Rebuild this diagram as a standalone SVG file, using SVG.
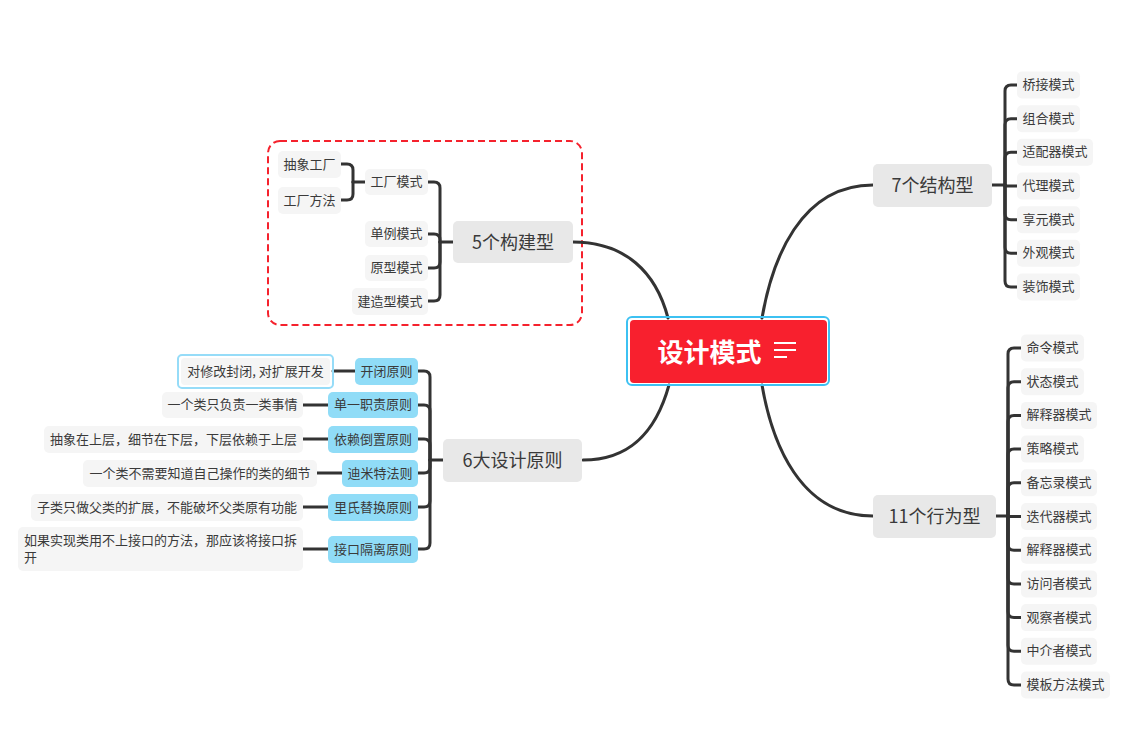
<svg xmlns="http://www.w3.org/2000/svg" width="1139" height="730" viewBox="0 0 1139 730">
<style>
text{font-family:"Noto Sans CJK SC","Liberation Sans",sans-serif;fill:#3a3a3a;dominant-baseline:central;text-anchor:middle;transform:translateY(-1.5px)}
.leaf rect{fill:#f5f5f5}
.leaf text{font-size:13px}
.topic rect{fill:#e8e8e8}
.topic text{font-size:18px}
.pr rect{fill:#90dcf7}
.pr text{font-size:13px}
.conn path{fill:none;stroke:#333;stroke-width:3;stroke-linecap:round}
</style>
<rect width="1139" height="730" fill="#fff"/>
<rect id="boundary" x="268" y="141" width="314" height="184" rx="12" fill="none" stroke="#f5222d" stroke-width="2" stroke-dasharray="7 4"/>
<g class="conn" id="connectors">
<path d="M573 242 C625 242 656 272 668 318"/>
<path d="M583 460 C630 460 656 432 669 385"/>
<path d="M762 318 C772 260 800 185 873 185"/>
<path d="M762 385 C772 443 800 516 873 516"/>
<path d="M453 242 H440"/>
<path d="M440 242 V188 Q440 182 434 182 H428"/>
<path d="M440 242 V240 Q440 234 434 234 H428"/>
<path d="M440 242 V262 Q440 268 434 268 H428"/>
<path d="M440 242 V295 Q440 301 434 301 H428"/>
<path d="M365 182 H353"/>
<path d="M353 182 V170 Q353 164 347 164 H341"/>
<path d="M353 182 V194 Q353 200 347 200 H341"/>
<path d="M443 460 H430"/>
<path d="M430 460 V377 Q430 371 424 371 H418"/>
<path d="M430 460 V411 Q430 405 424 405 H418"/>
<path d="M430 460 V445 Q430 439 424 439 H418"/>
<path d="M430 460 V467 Q430 473 424 473 H418"/>
<path d="M430 460 V501 Q430 507 424 507 H418"/>
<path d="M430 460 V543 Q430 549 424 549 H418"/>
<path d="M333 371 H355"/>
<path d="M303 405 H328"/>
<path d="M303 439 H328"/>
<path d="M317 473 H342"/>
<path d="M303 507 H328"/>
<path d="M303 549 H328"/>
<path d="M992 185 H1005"/>
<path d="M1005 185 V91 Q1005 85 1011 85 H1017"/>
<path d="M1005 185 V124.7 Q1005 118.7 1011 118.7 H1017"/>
<path d="M1005 185 V158.3 Q1005 152.3 1011 152.3 H1017"/>
<path d="M1005 185 V186 H1017"/>
<path d="M1005 185 V213.7 Q1005 219.7 1011 219.7 H1017"/>
<path d="M1005 185 V247.3 Q1005 253.3 1011 253.3 H1017"/>
<path d="M1005 185 V281 Q1005 287 1011 287 H1017"/>
<path d="M996 516 H1008"/>
<path d="M1008 516 V354 Q1008 348 1014 348 H1021"/>
<path d="M1008 516 V387.7 Q1008 381.7 1014 381.7 H1021"/>
<path d="M1008 516 V421.4 Q1008 415.4 1014 415.4 H1021"/>
<path d="M1008 516 V455.1 Q1008 449.1 1014 449.1 H1021"/>
<path d="M1008 516 V488.8 Q1008 482.8 1014 482.8 H1021"/>
<path d="M1008 516 V516.5 H1021"/>
<path d="M1008 516 V544.2 Q1008 550.2 1014 550.2 H1021"/>
<path d="M1008 516 V577.9 Q1008 583.9 1014 583.9 H1021"/>
<path d="M1008 516 V611.6 Q1008 617.6 1014 617.6 H1021"/>
<path d="M1008 516 V645.3 Q1008 651.3 1014 651.3 H1021"/>
<path d="M1008 516 V679 Q1008 685 1014 685 H1021"/>
</g>
<g id="center">
<rect x="627" y="317" width="202" height="68" rx="5" fill="none" stroke="#3cc1f2" stroke-width="2"/>
<rect x="630" y="320" width="197" height="63" rx="4" fill="#f8202e"/>
<text x="709.5" y="351.5" style="font-size:26px;font-weight:bold;fill:#fff">设计模式</text>
<path d="M774 343 H796 M774 350 H796 M774 357 H787" stroke="#fff" stroke-width="2"/>
</g>
<g id="t-build" class="topic"><rect x="453" y="221" width="120" height="42" rx="5"/><text x="513" y="242">5个构建型</text></g>
<g id="n-factory" class="leaf"><rect x="365" y="169" width="63" height="26" rx="5"/><text x="396.5" y="182">工厂模式</text></g>
<g id="n-absfactory" class="leaf"><rect x="278" y="151" width="63" height="27" rx="5"/><text x="309.5" y="164.5">抽象工厂</text></g>
<g id="n-factorymethod" class="leaf"><rect x="278" y="187" width="63" height="27" rx="5"/><text x="309.5" y="200.5">工厂方法</text></g>
<g id="n-singleton" class="leaf"><rect x="365" y="221" width="63" height="26" rx="5"/><text x="396.5" y="234">单例模式</text></g>
<g id="n-prototype" class="leaf"><rect x="365" y="255" width="63" height="26" rx="5"/><text x="396.5" y="268">原型模式</text></g>
<g id="n-builder" class="leaf"><rect x="352" y="288" width="76" height="27" rx="5"/><text x="390" y="301.5">建造型模式</text></g>
<g id="t-principles" class="topic"><rect x="443" y="439" width="139" height="43" rx="5"/><text x="512.5" y="460.5">6大设计原则</text></g>
<g id="p-ocp" class="pr"><rect x="355" y="358" width="63" height="27" rx="5"/><text x="386.5" y="371.5">开闭原则</text></g>
<g id="p-srp" class="pr"><rect x="328" y="392" width="90" height="26" rx="5"/><text x="373" y="405">单一职责原则</text></g>
<g id="p-dip" class="pr"><rect x="328" y="426" width="90" height="27" rx="5"/><text x="373" y="439.5">依赖倒置原则</text></g>
<g id="p-lod" class="pr"><rect x="342" y="460" width="76" height="27" rx="5"/><text x="380" y="473.5">迪米特法则</text></g>
<g id="p-lsp" class="pr"><rect x="328" y="494" width="90" height="27" rx="5"/><text x="373" y="507.5">里氏替换原则</text></g>
<g id="p-isp" class="pr"><rect x="328" y="536" width="90" height="27" rx="5"/><text x="373" y="549.5">接口隔离原则</text></g>
<g id="d-ocp" class="leaf"><rect x="178" y="355" width="155" height="33" rx="4" style="fill:none;stroke:#96dcf8;stroke-width:2"/><rect x="181" y="358" width="149" height="27" rx="4"/><text x="255.5" y="371.5">对修改封闭, 对扩展开发</text></g>
<g id="d-srp" class="leaf"><rect x="162" y="392" width="141" height="26" rx="5"/><text x="232.5" y="405">一个类只负责一类事情</text></g>
<g id="d-dip" class="leaf"><rect x="44" y="426" width="259" height="27" rx="5"/><text x="173.5" y="439.5">抽象在上层，细节在下层，下层依赖于上层</text></g>
<g id="d-lod" class="leaf"><rect x="83" y="460" width="234" height="27" rx="5"/><text x="200" y="473.5">一个类不需要知道自己操作的类的细节</text></g>
<g id="d-lsp" class="leaf"><rect x="31" y="494" width="272" height="27" rx="5"/><text x="167" y="507.5">子类只做父类的扩展，不能破坏父类原有功能</text></g>
<g id="d-isp" class="leaf"><rect x="18" y="527" width="285" height="44" rx="5"/><text x="24" y="541" style="text-anchor:start">如果实现类用不上接口的方法，那应该将接口拆</text><text x="24" y="558" style="text-anchor:start">开</text></g>
<g id="t-struct" class="topic"><rect x="873" y="164" width="119" height="43" rx="5"/><text x="932.5" y="185.5">7个结构型</text></g>
<g id="s1" class="leaf"><rect x="1017" y="71.5" width="63" height="27" rx="5"/><text x="1048.5" y="85">桥接模式</text></g>
<g id="s2" class="leaf"><rect x="1017" y="105.2" width="63" height="27" rx="5"/><text x="1048.5" y="118.7">组合模式</text></g>
<g id="s3" class="leaf"><rect x="1017" y="138.8" width="76" height="27" rx="5"/><text x="1055" y="152.3">适配器模式</text></g>
<g id="s4" class="leaf"><rect x="1017" y="172.5" width="63" height="27" rx="5"/><text x="1048.5" y="186">代理模式</text></g>
<g id="s5" class="leaf"><rect x="1017" y="206.2" width="63" height="27" rx="5"/><text x="1048.5" y="219.7">享元模式</text></g>
<g id="s6" class="leaf"><rect x="1017" y="239.8" width="63" height="27" rx="5"/><text x="1048.5" y="253.3">外观模式</text></g>
<g id="s7" class="leaf"><rect x="1017" y="273.5" width="63" height="27" rx="5"/><text x="1048.5" y="287">装饰模式</text></g>
<g id="t-behav" class="topic"><rect x="873" y="495" width="123" height="43" rx="5"/><text x="934.5" y="516.5">11个行为型</text></g>
<g id="b1" class="leaf"><rect x="1021" y="334.5" width="63" height="27" rx="5"/><text x="1052.5" y="348">命令模式</text></g>
<g id="b2" class="leaf"><rect x="1021" y="368.2" width="63" height="27" rx="5"/><text x="1052.5" y="381.7">状态模式</text></g>
<g id="b3" class="leaf"><rect x="1021" y="401.9" width="76" height="27" rx="5"/><text x="1059" y="415.4">解释器模式</text></g>
<g id="b4" class="leaf"><rect x="1021" y="435.6" width="63" height="27" rx="5"/><text x="1052.5" y="449.1">策略模式</text></g>
<g id="b5" class="leaf"><rect x="1021" y="469.3" width="76" height="27" rx="5"/><text x="1059" y="482.8">备忘录模式</text></g>
<g id="b6" class="leaf"><rect x="1021" y="503" width="76" height="27" rx="5"/><text x="1059" y="516.5">迭代器模式</text></g>
<g id="b7" class="leaf"><rect x="1021" y="536.7" width="76" height="27" rx="5"/><text x="1059" y="550.2">解释器模式</text></g>
<g id="b8" class="leaf"><rect x="1021" y="570.4" width="76" height="27" rx="5"/><text x="1059" y="583.9">访问者模式</text></g>
<g id="b9" class="leaf"><rect x="1021" y="604.1" width="76" height="27" rx="5"/><text x="1059" y="617.6">观察者模式</text></g>
<g id="b10" class="leaf"><rect x="1021" y="637.8" width="76" height="27" rx="5"/><text x="1059" y="651.3">中介者模式</text></g>
<g id="b11" class="leaf"><rect x="1021" y="671.5" width="89" height="27" rx="5"/><text x="1065.5" y="685">模板方法模式</text></g>
</svg>
